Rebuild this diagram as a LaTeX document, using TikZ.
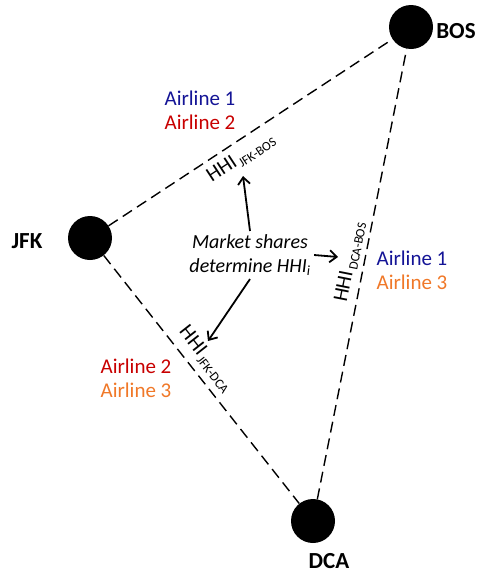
\documentclass[tikz,border=0pt]{standalone}
\usepackage{fontspec}
\setmainfont{Carlito}
\usetikzlibrary{arrows.meta}
\definecolor{lineblue}{RGB}{20,20,150}
\definecolor{linered}{RGB}{200,0,0}
\definecolor{lineorange}{RGB}{240,120,40}

\begin{document}
\begin{tikzpicture}[x=1pt, y=-1pt,
    city/.style={circle, fill=black, minimum size=44pt, inner sep=0pt},
    cityname/.style={font=\fontsize{23}{26}\selectfont\bfseries},
    route/.style={dash pattern=on 11pt off 6pt, line width=1.4pt},
    share/.style={font=\fontsize{21}{24}\selectfont, align=center},
    hhi/.style={font=\fontsize{21}{24}\selectfont, inner sep=1pt},
    effect/.style={-{Straight Barb[length=7pt,width=12pt]}, line width=1.8pt}]
  \useasboundingbox (0,0) rectangle (479,573);
  % airports
  \node[city] (bos) at (411,27) {};
  \node[city] (jfk) at (90,238) {};
  \node[city] (dca) at (313,521) {};
  \node[cityname] (bosname) at (456,31) {BOS};
  \node[cityname] (jfkname) at (27,241) {JFK};
  \node[cityname] (dcaname) at (329,561) {DCA};
  % routes
  \draw[route] (jfk) -- (bos);
  \draw[route] (jfk) -- (dca);
  \draw[route] (dca) -- (bos);
  % airlines on each route
  \node[share] (jfkbos) at (200,110) {\textcolor{lineblue}{Airline 1}\\\textcolor{linered}{Airline 2}};
  \node[share] (dcabos) at (412,270) {\textcolor{lineblue}{Airline 1}\\\textcolor{lineorange}{Airline 3}};
  \node[share] (jfkdca) at (136,378) {\textcolor{linered}{Airline 2}\\\textcolor{lineorange}{Airline 3}};
  % concentration indices
  \node[hhi, rotate=33.3] (hhijb) at (241,158) {HHI\kern2pt\raisebox{-4pt}{\fontsize{13}{15}\selectfont JFK-BOS}};
  \node[hhi, rotate=78.8] (hhidb) at (350,262) {HHI\kern2pt\raisebox{-4pt}{\fontsize{13}{15}\selectfont DCA-BOS}};
  \node[hhi, rotate=-51.8] (hhijd) at (206,359) {HHI\kern2pt\raisebox{-4pt}{\fontsize{13}{15}\selectfont JFK-DCA}};
  % market shares
  \node[share, font=\fontsize{20}{24}\selectfont\itshape] (ms) at (250,255) {Market shares\\determine HHI\textsubscript{i}};
  \coordinate (tipjb) at (243,176);
  \coordinate (tipdb) at (338,257);
  \coordinate (tipjd) at (208,341);
  \draw[effect] (ms.north) -- (tipjb);
  \draw[effect] (ms.east) -- (tipdb);
  \draw[effect] (ms.south) -- (tipjd);
\end{tikzpicture}
\end{document}
